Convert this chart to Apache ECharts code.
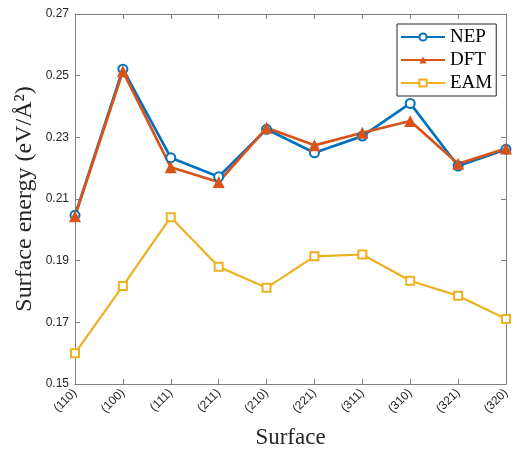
<!DOCTYPE html>
<html><head><meta charset="utf-8">
<script src="https://cdn.jsdelivr.net/npm/echarts@6/dist/echarts.min.js"></script>
<style>html,body{margin:0;padding:0;background:#fff}#c{width:517px;height:449px}</style>
</head><body><div id="c"></div>
<script>
const categories = ['(110)','(100)','(111)','(211)','(210)','(221)','(311)','(310)','(321)','(320)'];
const nep = [0.2047,0.2521,0.2234,0.2172,0.2326,0.2250,0.2304,0.2410,0.2207,0.2261];
const dft = [0.2044,0.2514,0.2203,0.2155,0.2331,0.2274,0.2315,0.2353,0.2214,0.2264];
const eam = [0.1600,0.1818,0.2041,0.1880,0.1812,0.1914,0.1920,0.1835,0.1786,0.1711];
const yTicks = [0.15,0.17,0.19,0.21,0.23,0.25,0.27];

const axisColor = '#808080';
const chart = echarts.init(document.getElementById('c'));
const baseX = {
  type:'category', data:categories, boundaryGap:false,
  axisLine:{lineStyle:{color:axisColor,width:1}},
  axisTick:{inside:true,length:5,lineStyle:{color:axisColor}},
  splitLine:{show:false}
};
const baseY = {
  type:'value', min:yTicks[0], max:yTicks[yTicks.length-1], interval:0.02,
  axisLine:{show:true,lineStyle:{color:axisColor,width:1}},
  axisTick:{show:true,inside:true,length:5,lineStyle:{color:axisColor}},
  splitLine:{show:false}
};
chart.setOption({
  backgroundColor:'#fff',
  animation:false,
  grid:{left:75,right:11,top:14,bottom:65,containLabel:false,outerBoundsMode:'none'},
  xAxis:[
    Object.assign({},baseX,{position:'bottom',
      axisLabel:{rotate:45,color:'#262626',fontFamily:'Liberation Sans',fontSize:12,margin:7},
      name:'Surface',nameLocation:'middle',nameGap:42,nameMoveOverlap:false,
      nameTextStyle:{fontFamily:'Liberation Serif',fontSize:23,color:'#262626'}}),
    Object.assign({},baseX,{position:'top',axisLabel:{show:false}})
  ],
  yAxis:[
    Object.assign({},baseY,{position:'left',
      axisLabel:{color:'#262626',fontFamily:'Liberation Sans',fontSize:12,margin:6,
        formatter:v=>v.toFixed(2)},
      name:'Surface energy (eV/Å²)',nameLocation:'middle',nameGap:38,nameMoveOverlap:false,
      nameTextStyle:{fontFamily:'Liberation Serif',fontSize:24,color:'#262626'}}),
    Object.assign({},baseY,{position:'right',axisLabel:{show:false}})
  ],
  legend:{
    left:397, top:24, orient:'vertical',
    backgroundColor:'#fff', borderColor:'#262626', borderWidth:1,
    padding:[3,4,3,3], itemGap:3, itemWidth:44, itemHeight:9,
    textStyle:{fontFamily:'Liberation Serif',fontSize:19,color:'#000',lineHeight:20},
    data:['NEP','DFT','EAM']
  },
  series:[
    {name:'NEP',type:'line',data:nep,symbol:'emptyCircle',symbolSize:9,
      color:'#0072BD',lineStyle:{width:2.7,color:'#0072BD'},
      itemStyle:{color:'#0072BD',borderWidth:2.2}},
    {name:'DFT',type:'line',data:dft,symbol:'triangle',symbolSize:12,
      color:'#D95319',lineStyle:{width:2.7,color:'#D95319'},
      itemStyle:{color:'#D95319'}},
    {name:'EAM',type:'line',data:eam,symbol:'emptyRect',symbolSize:8,
      color:'#EDB120',lineStyle:{width:2.2,color:'#EDB120'},
      itemStyle:{color:'#EDB120',borderWidth:1.5}}
  ]
});
</script></body></html>
